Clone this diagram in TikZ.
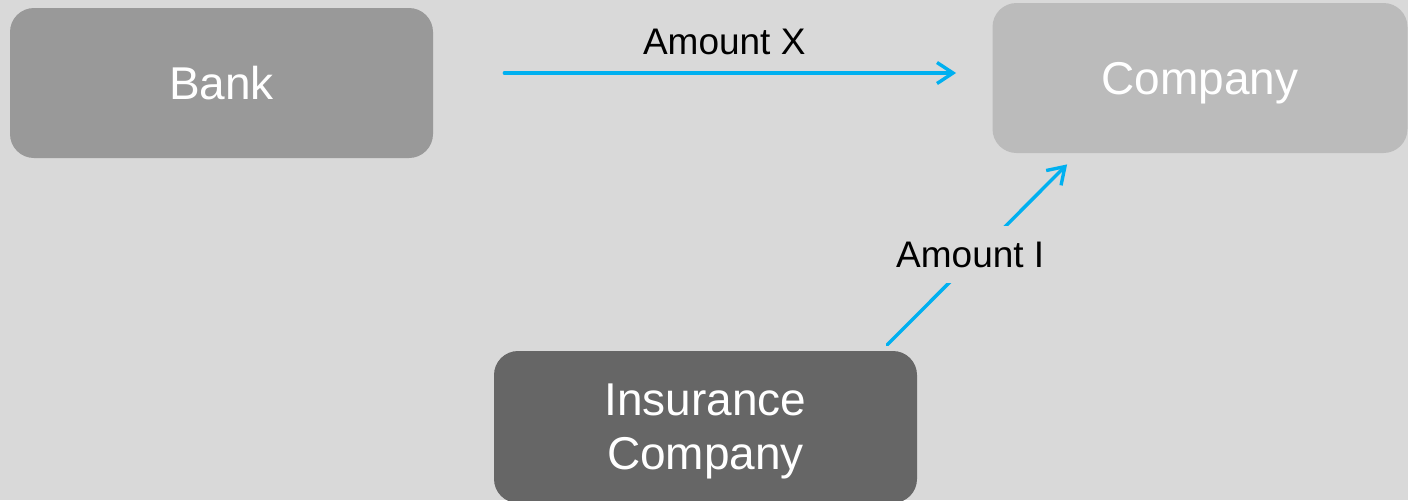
\documentclass[tikz,border=0pt]{standalone}
\usepackage{fontspec}
\setmainfont{Liberation Sans}
\usetikzlibrary{arrows.meta}
\definecolor{bggrey}{HTML}{D9D9D9}
\definecolor{bankgrey}{HTML}{999999}
\definecolor{compgrey}{HTML}{BBBBBB}
\definecolor{insgrey}{HTML}{666666}
\definecolor{flowblue}{HTML}{00B0F0}
\tikzset{
  party/.style={rounded corners=12pt, text=white, font=\fontsize{23}{27}\selectfont,
    align=center, inner sep=0pt, text depth=0pt,
    minimum width=211.5pt, minimum height=75pt},
  flow/.style={draw=flowblue, line width=1.7pt, line cap=round,
    -{Straight Barb[length=8pt, width=10.5pt, line width=1.7pt]}},
  amount/.style={font=\fontsize{18.5}{21}\selectfont, text=black},
}

\begin{document}
\begin{tikzpicture}[x=0.5pt, y=-0.5pt]
  \fill[bggrey] (0,0) rectangle (1408,500);
  \useasboundingbox (0,0) rectangle (1408,500);

  \node [party, fill=bankgrey] (bank) at (221.5,83) {Bank};
  \node [party, fill=compgrey, minimum width=207.5pt] (company) at (1200,78) {Company};
  \node [party, fill=insgrey, minimum height=76pt] (insurance) at (705.5,427) {Insurance\\Company};

  \draw [flow] ([shift={(71,-10)}]bank.east) -- ([shift={(-36,-5)}]company.west)
    node [amount, midway, above=5pt, xshift=-3pt] (amtx) {Amount X};
  \draw [flow] ([shift={(-30,-6)}]insurance.north east) -- ([shift={(75,11)}]company.south west)
    node [amount, midway, fill=bggrey, inner sep=8pt, xshift=-3.5pt] (amti) {Amount I};
\end{tikzpicture}
\end{document}
